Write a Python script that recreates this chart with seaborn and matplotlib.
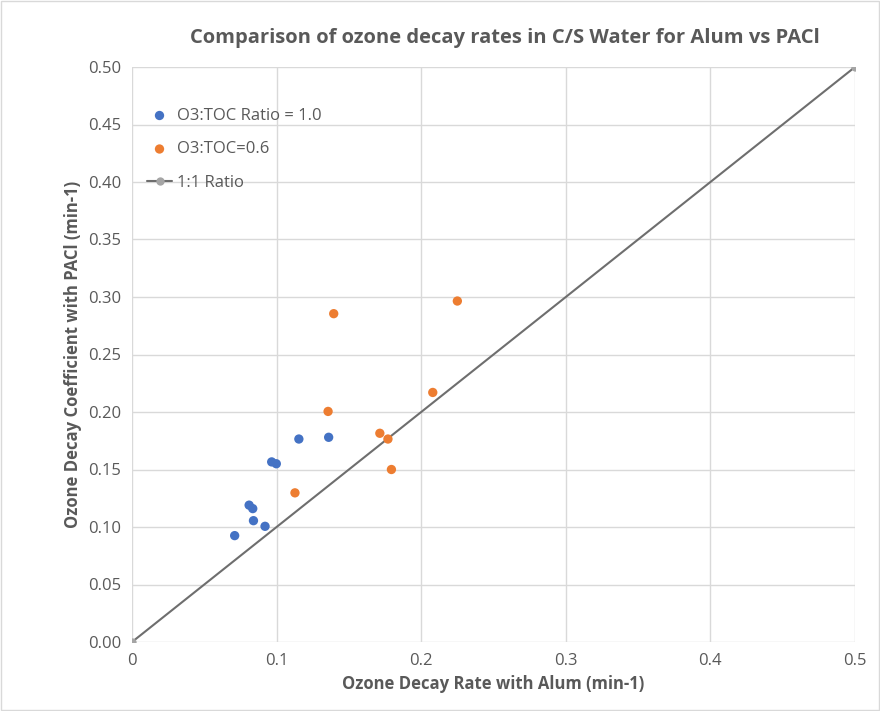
import matplotlib
matplotlib.use("Agg")
import matplotlib.pyplot as plt
import seaborn as sns
import pandas as pd

blue_x = [0.071, 0.081, 0.0835, 0.084, 0.092, 0.0966, 0.0998, 0.1154, 0.136]
blue_y = [0.0925, 0.119, 0.116, 0.1055, 0.1006, 0.1566, 0.155, 0.1765, 0.178]
orange_x = [0.1127, 0.1356, 0.1395, 0.1714, 0.177, 0.1794, 0.208, 0.225]
orange_y = [0.1297, 0.2005, 0.2855, 0.1815, 0.1765, 0.150, 0.217, 0.2965]
line_x = [0.0, 0.5]
line_y = [0.0, 0.5]

sns.set_style("white")
plt.rcParams['font.family'] = ['Open Sans', 'DejaVu Sans']

fig = plt.figure(figsize=(8.8, 7.11), dpi=100)
ax = fig.add_axes([132/880, 1-642/711, (855-132)/880, (642-67)/711])
fig.patches.append(plt.Rectangle((0.001, 0.001), 0.998, 0.998, transform=fig.transFigure,
                                 fill=False, edgecolor="#d9d9d9", lw=1))

sns.lineplot(x=line_x, y=line_y, ax=ax, color="#6e6e6e", lw=1.5, marker="o",
             markersize=6, markeredgewidth=0, markerfacecolor="#a5a5a5", label="1:1 Ratio", zorder=2)
sns.scatterplot(x=blue_x, y=blue_y, ax=ax, color="#4472c4", s=45, edgecolor="none",
                label="O3:TOC Ratio = 1.0", zorder=3)
sns.scatterplot(x=orange_x, y=orange_y, ax=ax, color="#ed7d31", s=45, edgecolor="none",
                label="O3:TOC=0.6", zorder=3)

ax.set_xlim(0, 0.5)
ax.set_ylim(0, 0.5)
ax.set_xticks([0, 0.1, 0.2, 0.3, 0.4, 0.5])
ax.set_xticklabels(["0", "0.1", "0.2", "0.3", "0.4", "0.5"])
ax.set_yticks([i*0.05 for i in range(11)])
ax.set_yticklabels([f"{i*0.05:.2f}" for i in range(11)])
ax.grid(True, color="#d9d9d9", lw=1)
for s in ax.spines.values():
    s.set_visible(False)
ax.tick_params(axis="both", colors="#595959", labelsize=12, length=0, pad=8)
ax.set_xlabel("Ozone Decay Rate with Alum (min-1)", fontsize=12, fontweight="bold", color="#595959")
ax.set_ylabel("Ozone Decay Coefficient with PACl (min-1)", fontsize=12, fontweight="bold", color="#595959")
fig.text(505/880, 1-38/711, "Comparison of ozone decay rates in C/S Water for Alum vs PACl",
         fontsize=14.5, fontweight="bold", color="#595959", ha="center", va="center")

h, l = ax.get_legend_handles_labels()
order = [1, 2, 0]
ax.legend([h[i] for i in order], [l[i] for i in order], loc="upper left",
          bbox_to_anchor=(0.0, 0.955), frameon=False, fontsize=12, labelcolor="#595959",
          handlelength=1.5, labelspacing=1.05, handletextpad=0.3)

fig.savefig("out.png", dpi=100)
